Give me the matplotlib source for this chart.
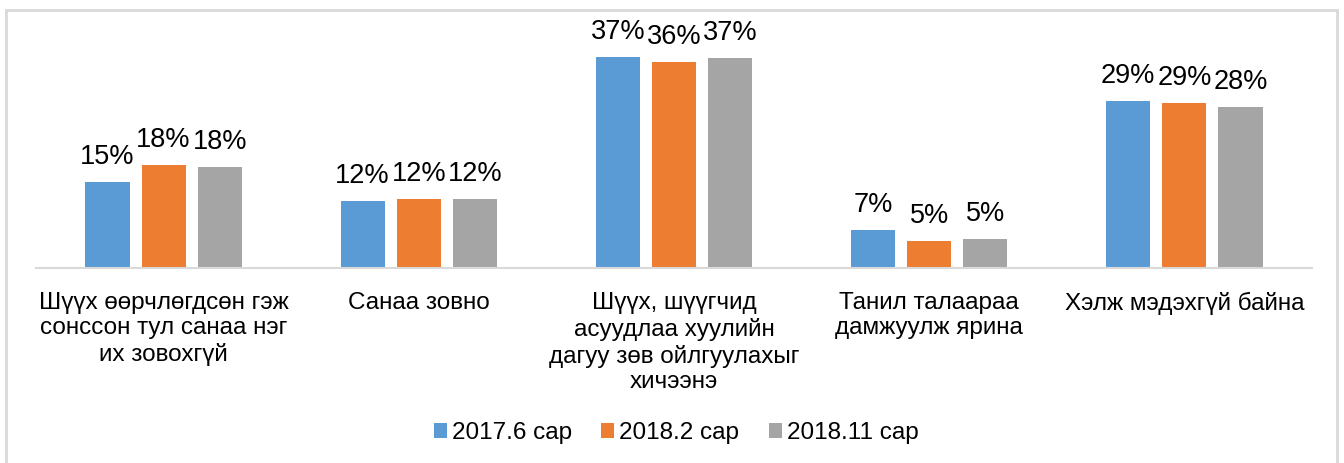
import matplotlib.pyplot as plt
import numpy as np
from matplotlib.patches import Rectangle

plt.rcParams["font.family"] = ["Liberation Sans", "DejaVu Sans"]

categories = [
    "Шүүх өөрчлөгдсөн гэж\nсонссон тул санаа нэг\nих зовохгүй",
    "Санаа зовно",
    "Шүүх, шүүгчид\nасуудлаа хуулийн\nдагуу зөв ойлгуулахыг\nхичээнэ",
    "Танил талаараа\nдамжуулж ярина",
    "Хэлж мэдэхгүй байна",
]
series_names = ["2017.6 сар", "2018.2 сар", "2018.11 сар"]
v_2017_6 = [15.1, 11.8, 37.0, 6.7, 29.3]
v_2018_2 = [18.1, 12.1, 36.1, 4.7, 28.9]
v_2018_11 = [17.7, 12.1, 36.8, 5.1, 28.2]
colors = ["#5B9BD5", "#ED7D31", "#A5A5A5"]

fig = plt.figure(figsize=(13.44, 4.63), dpi=100)
ax = fig.add_axes([0.0268, 0.4212, 0.9494, 0.4924])

x = np.arange(len(categories))
width = 0.173
offsets = [-0.22, 0.0, 0.22]
for vals, name, color, off in zip([v_2017_6, v_2018_2, v_2018_11], series_names, colors, offsets):
    bars = ax.bar(x + off, vals, width, color=color, label=name)
    ax.bar_label(bars, labels=[f"{round(v)}%" for v in vals], padding=8.5, fontsize=19.5)

ax.set_xlim(-0.5, len(categories) - 0.5)
ax.set_ylim(0, 40)
ax.set_yticks([])
ax.set_xticks(x)
ax.set_xticklabels(categories, fontsize=17.5, linespacing=1.22)
ax.tick_params(axis="x", length=0, pad=17)
for s in ["top", "left", "right"]:
    ax.spines[s].set_visible(False)
ax.spines["bottom"].set_color("#D9D9D9")
ax.spines["bottom"].set_linewidth(1.5)

fig.legend(loc="center", bbox_to_anchor=(0.503, 1 - 433 / 463), ncol=3, frameon=False,
           fontsize=17.5, handlelength=0.55, handleheight=0.55, handletextpad=0.2,
           columnspacing=1.2)

fig.add_artist(Rectangle((6 / 1344, -0.1), 1331 / 1344, 1.1 - 10 / 463, transform=fig.transFigure,
                         fill=False, edgecolor="#D9D9D9", linewidth=2))

fig.savefig("out.png", dpi=100)
